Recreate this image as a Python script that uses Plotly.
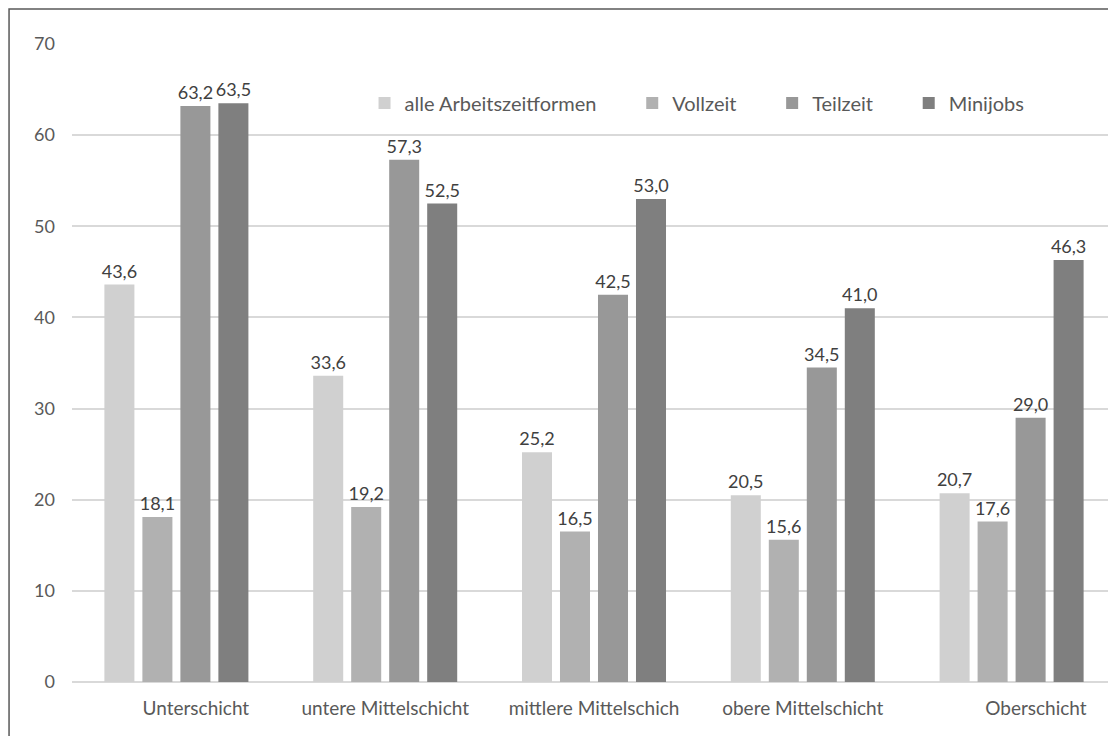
import plotly.graph_objects as go

categories = ["Unterschicht", "untere Mittelschicht", "mittlere Mittelschich",
              "obere Mittelschicht", "Oberschicht"]
tick_labels = ["\u00a0" * 8 + "Unterschicht", "untere Mittelschicht",
               "mittlere Mittelschich", "obere Mittelschicht",
               "\u00a0" * 10 + "Oberschicht"]

alle = [43.6, 33.6, 25.2, 20.5, 20.7]
vollzeit = [18.1, 19.2, 16.5, 15.6, 17.6]
teilzeit = [63.2, 57.3, 42.5, 34.5, 29.0]
minijobs = [63.5, 52.5, 53.0, 41.0, 46.3]

series = [
    ("alle Arbeitszeitformen", alle, "#d0d0d0"),
    ("Vollzeit", vollzeit, "#b1b1b1"),
    ("Teilzeit", teilzeit, "#989898"),
    ("Minijobs", minijobs, "#7f7f7f"),
]

FONT = "Lato"
TXT = "#595959"
PAD = "\u00a0" * 6

fig = go.Figure()
for name, vals, col in series:
    fig.add_trace(go.Bar(
        x=categories, y=vals, name=name + PAD,
        marker=dict(color=col, line=dict(width=0)),
        texttemplate="%{y:.1f}", textposition="outside", constraintext="none",
        textfont=dict(family=FONT, size=18, color="#404040"),
        cliponaxis=False,
    ))

# the page has an 8px body margin, so the figure is 8px smaller than the window
fig.update_layout(
    width=1108, height=728,
    barmode="group", bargap=0.272, bargroupgap=0.21,
    separators=",.",
    plot_bgcolor="white", paper_bgcolor="white",
    margin=dict(l=64, r=0, t=36, b=54),
    font=dict(family=FONT, size=18, color=TXT),
    showlegend=True,
    legend=dict(orientation="h", x=0.2802, y=0.9075, xanchor="left", yanchor="middle",
                font=dict(family=FONT, size=20, color=TXT),
                itemwidth=30, bgcolor="rgba(0,0,0,0)"),
    shapes=[dict(type="rect", xref="paper", yref="paper",
                 x0=-0.0603, x1=1.05, y0=-0.2, y1=1.0549,
                 line=dict(color="#595959", width=1.5), layer="above")],
)
fig.update_xaxes(
    tickmode="array", tickvals=categories, ticktext=tick_labels,
    showgrid=False, showline=False, ticks="", ticklabelstandoff=13,
    tickfont=dict(family=FONT, size=19, color=TXT),
)
fig.update_yaxes(
    range=[0, 70], dtick=10, showgrid=True, gridcolor="#d9d9d9", gridwidth=1.5,
    zeroline=True, zerolinecolor="#d9d9d9", zerolinewidth=1.5,
    showline=False, ticks="", ticklabelstandoff=16,
    tickfont=dict(family=FONT, size=18, color=TXT),
)

fig.write_html("out.html")
